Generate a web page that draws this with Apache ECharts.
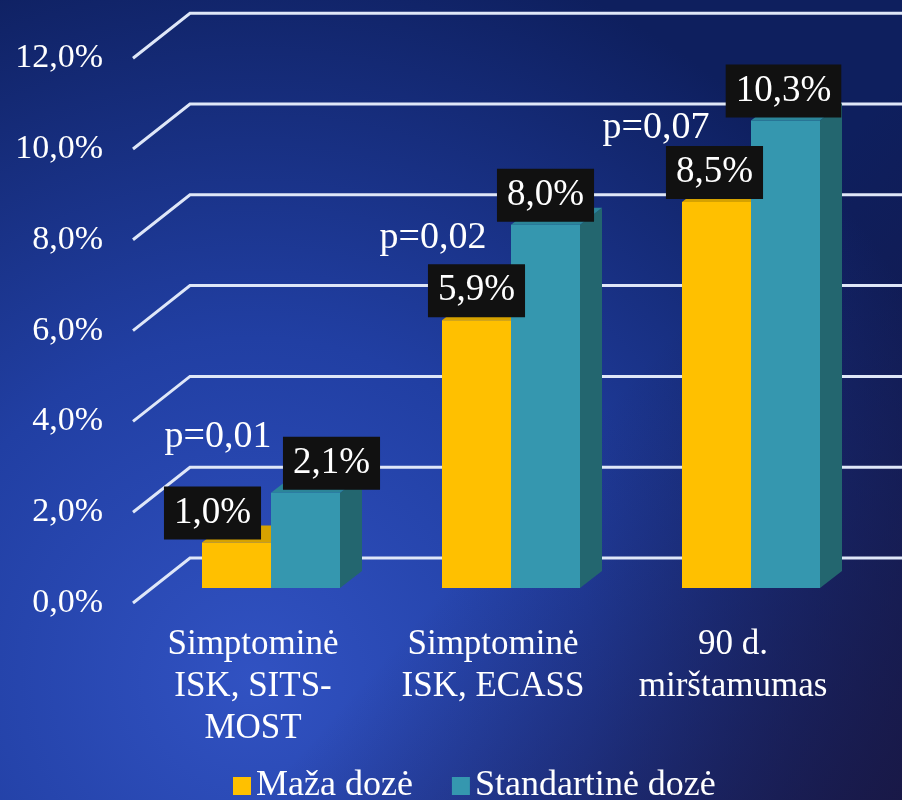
<!DOCTYPE html>
<html>
<head>
<meta charset="utf-8">
<script src="https://cdn.jsdelivr.net/npm/echarts@6/dist/echarts.min.js"></script>
<style>
  html, body { margin: 0; padding: 0; background: #0f2262; }
  #chart { width: 902px; height: 800px; }
</style>
</head>
<body>
<div id="chart"></div>
<script>
// Chart data
const categories = ['Simptominė\nISK, SITS-\nMOST', 'Simptominė\nISK, ECASS', '90 d.\nmirštamumas'];
const seriesNames = ['Maža dozė', 'Standartinė dozė'];
const lowDose = [1.0, 5.9, 8.5];
const standardDose = [2.1, 8.0, 10.3];
const yTicks = [0, 2, 4, 6, 8, 10, 12];
const yTickLabels = ['0,0%', '2,0%', '4,0%', '6,0%', '8,0%', '10,0%', '12,0%'];
const pValues = ['p=0,01', 'p=0,02', 'p=0,07'];

// Layout helpers (pixels / value units for annotation placement)
const pNoteY = [3.33, 7.71, 10.13];
const pNoteDx = [-53, -78, -95];
const lowLabelDx = [-24, 0, -2];
const stdLabelDx = [26, 0, -2];

const FONT = '"Liberation Serif", "Times New Roman", serif';
const DEPTH_X = 22, DEPTH_Y = -17;
const BAR_RATIO = 0.2875;

const palette = {
  low: { front: '#ffc000', top: '#d6a200', side: '#b58900' },
  std: { front: '#3597af', top: '#2b8599', side: '#23666f' }
};

function fmt(v) { return v.toFixed(1).replace('.', ',') + '%'; }

function barGeom(api, side) {
  const ci = api.value(0), v = api.value(1);
  const base = api.coord([ci, 0]);
  const top = api.coord([ci, v]);
  const bw = api.size([1, 0])[0] * BAR_RATIO;
  const x0 = side < 0 ? base[0] - bw : base[0];
  return { x0: x0, x1: x0 + bw, yT: top[1], yB: base[1], v: v, ci: ci };
}

function barRenderer(side, c) {
  return function (params, api) {
    const g = barGeom(api, side);
    return {
      type: 'group',
      children: [
        { type: 'polygon', shape: { points: [[g.x1, g.yB], [g.x1 + DEPTH_X, g.yB + DEPTH_Y], [g.x1 + DEPTH_X, g.yT + DEPTH_Y], [g.x1, g.yT]] }, style: { fill: c.side } },
        { type: 'polygon', shape: { points: [[g.x0, g.yT], [g.x0 + DEPTH_X, g.yT + DEPTH_Y], [g.x1 + DEPTH_X, g.yT + DEPTH_Y], [g.x1, g.yT]] }, style: { fill: c.top } },
        { type: 'rect', shape: { x: g.x0, y: g.yT, width: g.x1 - g.x0, height: g.yB - g.yT }, style: { fill: c.front } }
      ]
    };
  };
}

function labelRenderer(side, nudges) {
  return function (params, api) {
    const g = barGeom(api, side);
    return {
      type: 'text',
      x: (g.x0 + g.x1) / 2 + nudges[params.dataIndex],
      y: g.yT - 3,
      style: {
        text: fmt(g.v), fill: '#ffffff', font: '37px ' + FONT,
        align: 'center', verticalAlign: 'bottom',
        backgroundColor: '#111111', padding: [8, 10, 8, 10], lineHeight: 37
      }
    };
  };
}

// Perspective grid: front edge on the left, back wall lines running right
function gridRenderer(params, api) {
  const cs = params.coordSys;
  const y = api.coord([0, api.value(1)])[1];
  const fx = cs.x - 18, bx = fx + 57;
  const W = api.getWidth();
  return {
    type: 'polyline',
    shape: { points: [[fx, y + 15], [bx, y - 30], [W, y - 30]] },
    style: { stroke: '#dfe7f8', lineWidth: 3, fill: null }
  };
}

function pRenderer(params, api) {
  const i = params.dataIndex;
  const p = api.coord([api.value(0), api.value(1)]);
  return {
    type: 'text',
    x: p[0] + pNoteDx[i], y: p[1],
    style: { text: pValues[i], fill: '#ffffff', font: '38px ' + FONT, align: 'center', verticalAlign: 'middle' }
  };
}

const chart = echarts.init(document.getElementById('chart'));
chart.setOption({
  backgroundColor: {
    type: 'radial', x: 0.28, y: 0.85, r: 0.95,
    colorStops: [
      { offset: 0, color: '#3152c2' },
      { offset: 0.45, color: '#213fa3' },
      { offset: 1, color: '#0e1f5e' }
    ]
  },
  graphic: [{
    type: 'rect', z: -10, silent: true,
    shape: { x: 0, y: 0, width: 902, height: 800 },
    style: {
      fill: {
        type: 'linear', x: 0, y: 0, x2: 1, y2: 1,
        colorStops: [
          { offset: 0, color: 'rgba(20,18,60,0)' },
          { offset: 0.6, color: 'rgba(24,20,62,0)' },
          { offset: 1, color: 'rgba(26,22,64,0.85)' }
        ]
      }
    }
  }],
  animation: false,
  legend: {
    data: seriesNames, selectedMode: false,
    left: 228, top: 763, itemGap: 39, itemWidth: 18, itemHeight: 18, icon: 'rect',
    textStyle: { color: '#ffffff', fontSize: 36, fontFamily: FONT, lineHeight: 36 }
  },
  grid: { left: 151, width: 720, top: 43.2, bottom: 212 },
  xAxis: {
    type: 'category', data: categories,
    axisLine: { show: false }, axisTick: { show: false }, splitLine: { show: false },
    axisLabel: {
      interval: 0, hideOverlap: false,
      color: '#ffffff', fontSize: 35, fontFamily: FONT, lineHeight: 42, margin: 36, padding: [0, 36, 0, 0]
    }
  },
  yAxis: {
    type: 'value', min: 0, max: 12, interval: 2,
    axisLine: { show: false }, axisTick: { show: false }, splitLine: { show: false },
    axisLabel: {
      color: '#ffffff', fontSize: 34, fontFamily: FONT, margin: 48,
      verticalAlign: 'top', lineHeight: 30,
      formatter: function (v) { return yTickLabels[yTicks.indexOf(v)]; }
    }
  },
  series: [
    { type: 'custom', name: 'grid', z: 1, silent: true, clip: false,
      data: yTicks.map(v => [0, v]), renderItem: gridRenderer },
    { type: 'custom', name: seriesNames[0], z: 2, clip: false, itemStyle: { color: palette.low.front },
      data: lowDose.map((v, i) => [i, v]), encode: { x: 0, y: 1 }, renderItem: barRenderer(-1, palette.low) },
    { type: 'custom', name: seriesNames[1], z: 3, clip: false, itemStyle: { color: palette.std.front },
      data: standardDose.map((v, i) => [i, v]), encode: { x: 0, y: 1 }, renderItem: barRenderer(1, palette.std) },
    { type: 'custom', name: 'lowLabels', z: 5, clip: false, silent: true,
      data: lowDose.map((v, i) => [i, v]), renderItem: labelRenderer(-1, lowLabelDx) },
    { type: 'custom', name: 'stdLabels', z: 5, clip: false, silent: true,
      data: standardDose.map((v, i) => [i, v]), renderItem: labelRenderer(1, stdLabelDx) },
    { type: 'custom', name: 'pNotes', z: 5, clip: false, silent: true,
      data: pNoteY.map((y, i) => [i, y]), renderItem: pRenderer }
  ]
});
</script>
</body>
</html>
